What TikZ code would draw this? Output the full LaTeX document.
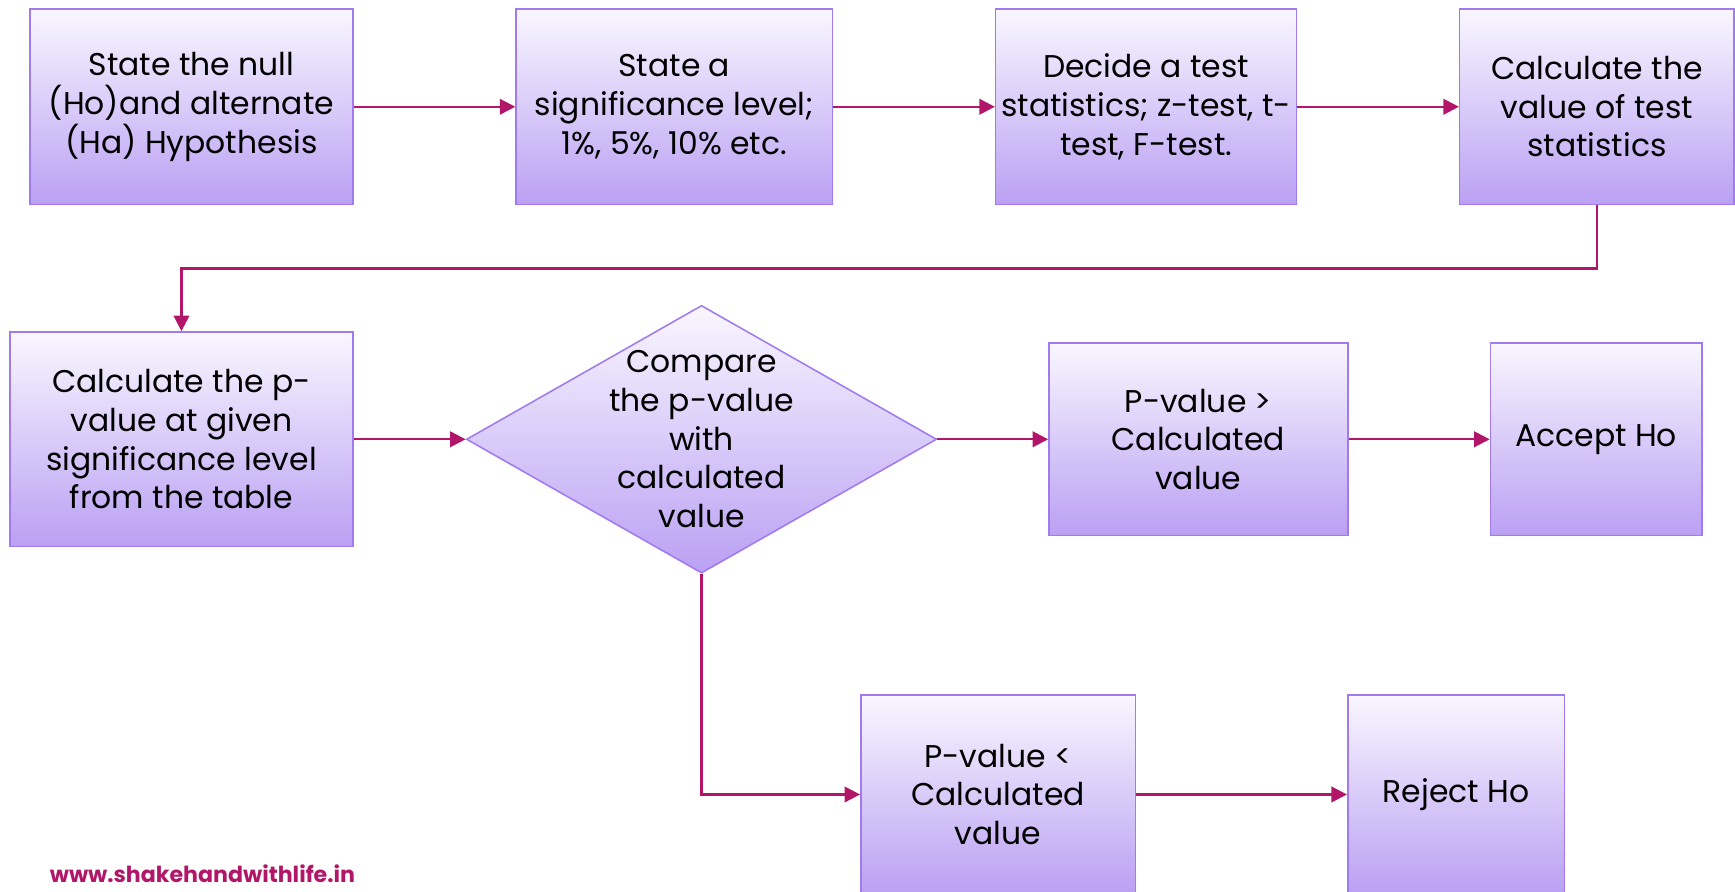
\documentclass[tikz,border=0pt]{standalone}
\usepackage{fontspec}
\setmainfont{Poppins}
\usepackage{xcolor}
\usepackage{tikz}
\usetikzlibrary{shapes.geometric,chains,positioning,arrows.meta}

\definecolor{boxtop}{RGB}{249,247,255}
\definecolor{boxbot}{RGB}{186,160,243}
\definecolor{boxline}{RGB}{162,122,240}
\definecolor{flowcol}{RGB}{178,22,104}

\begin{document}
\begin{tikzpicture}[x=0.5pt, y=-0.5pt,
        stage/.style={rectangle, draw=boxline, line width=0.7pt,
            top color=boxtop, bottom color=boxbot, align=center,
            inner sep=2pt, font=\fontsize{14.2}{17.5}\selectfont},
        decision/.style={diamond, draw=boxline, line width=0.7pt,
            top color=boxtop, bottom color=boxbot, inner sep=0pt,
            minimum width=212.5pt, minimum height=121pt},
        flow/.style={draw=flowcol, line width=1pt, ->},
        >={Triangle[length=7pt,width=7pt]},
        node distance=73pt, start chain]

    \useasboundingbox (0,0) rectangle (1568,806);

    % first row, left to right
    \node[stage, on chain, minimum width=146pt, minimum height=88.5pt]
        (null) at (173,96.5) {State the null\\(Ho)and alternate\\(Ha) Hypothesis};
    \node[stage, on chain, minimum width=143pt, minimum height=88.5pt]
        (level) {State a\\significance level;\\1\%, 5\%, 10\% etc.};
    \node[stage, on chain, minimum width=136pt, minimum height=88.5pt]
        (test) {Decide a test\\statistics; z-test, t-\\test, F-test.};
    \node[stage, on chain, minimum width=124pt, minimum height=88.5pt]
        (calc) {Calculate the\\value of test\\statistics};

    % second row
    \node[stage, minimum width=155pt, minimum height=97pt]
        (pval) at (164,397) {Calculate the p-\\value at given\\significance level\\from the table};
    \node[decision] (cmp) at (634,397) {};
    \node[align=center, font=\fontsize{14.2}{17.5}\selectfont]
        (cmptext) at (cmp) {Compare\\the p-value\\with\\calculated\\value};
    \node[stage, minimum width=135pt, minimum height=87pt]
        (greater) at (1083,397) {P-value >\\Calculated\\value};
    \node[stage, minimum width=95.5pt, minimum height=87pt]
        (accept) at (1442.5,397) {Accept Ho};

    % third row
    \node[stage, minimum width=124pt, minimum height=90pt]
        (less) at (902,718) {P-value <\\Calculated\\value};
    \node[stage, minimum width=98pt, minimum height=90pt]
        (reject) at (1316,718) {Reject Ho};

    \node[text=flowcol, font=\bfseries\fontsize{10}{11}\selectfont]
        (site) at (183,790) {www.shakehandwithlife.in};

    % connectors
    \draw[flow] (null) -- (level);
    \draw[flow] (level) -- (test);
    \draw[flow] (test) -- (calc);
    \draw[flow] (calc.south) -- ++(0,57) -| (pval.north);
    \draw[flow] (pval.east) -- (cmp.west);
    \draw[flow] (cmp.east) -- (greater.west);
    \draw[flow] (greater) -- (accept);
    \draw[flow] (cmp.south) |- (less.west);
    \draw[flow] (less) -- (reject);

\end{tikzpicture}
\end{document}
